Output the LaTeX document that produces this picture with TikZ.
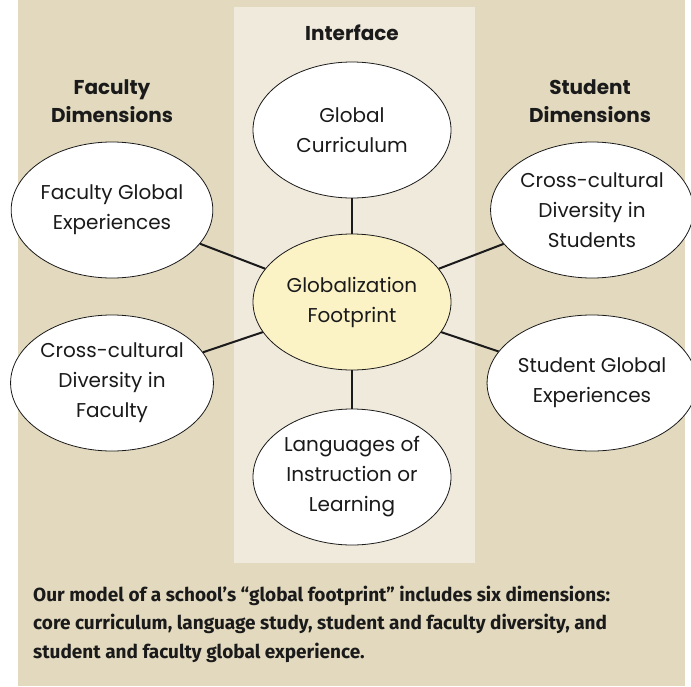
\documentclass[tikz,border=0pt]{standalone}
\usepackage{fontspec}
\setmainfont{Poppins}
\newfontfamily\notefont{Fira Sans}
\usetikzlibrary{shapes.geometric}

\definecolor{sand}{HTML}{E2D9BF}
\definecolor{paper}{HTML}{F0EADD}
\definecolor{cream}{HTML}{FBF3C6}
\definecolor{ink}{HTML}{1A1A1A}

\begin{document}
\begin{tikzpicture}[
  x=1pt, y=-1pt,
  every node/.style={align=center, text=ink},
  % Dimension ellipses
  dim/.style={ellipse, draw=ink, line width=0.8pt, fill=white, minimum width=198pt, minimum height=136pt, inner sep=0pt, font=\fontsize{20}{30}\selectfont},
  % Central ellipse
  core/.style={dim, fill=cream},
  % Column headings
  head/.style={font=\bfseries\fontsize{20}{28}\selectfont},
  % Spokes
  link/.style={line width=2pt, draw=ink},
  % Caption under the diagram
  note/.style={align=left, anchor=west, inner sep=0pt, font=\notefont\bfseries\fontsize{19}{28.5}\selectfont}
]
\useasboundingbox (0,0) rectangle (691,686);

% === Backgrounds ===
\fill[sand] (18,0) rectangle (685,686);
\fill[paper] (234,7) rectangle (475,563);

% === Headings ===
\node[head] (faculty) at (112,101) {Faculty\\Dimensions};
\node[head] (iface) at (352,33) {Interface};
\node[head] (student) at (590,101) {Student\\Dimensions};

% === Interface column ===
\node[dim] (curr) at (352,130) {Global\\Curriculum};
\node[core] (foot) at (352,302) {Globalization\\Footprint};
\node[dim] (lang) at (352,477) {Languages of\\Instruction or\\Learning};

% === Faculty side ===
\node[dim] (facexp) at (112,210) {Faculty Global\\Experiences};
\node[dim] (facdiv) at (112,383) {Cross-cultural\\Diversity in\\Faculty};

% === Student side ===
\node[dim] (studiv) at (592,210) {Cross-cultural\\Diversity in\\Students};
\node[dim] (stuexp) at (592,383) {Student Global\\Experiences};

% Spokes: footprint -> dimensions
\draw[link] (foot) -- (curr);
\draw[link] (foot) -- (lang);
\draw[link] (foot) -- (facexp);
\draw[link] (foot) -- (facdiv);
\draw[link] (foot) -- (studiv);
\draw[link] (foot) -- (stuexp);

% === Caption ===
\node[note] (caption) at (33,624) {Our model of a school’s “global footprint” includes six dimensions:\\core curriculum, language study, student and faculty diversity, and\\student and faculty global experience.};

\end{tikzpicture}
\end{document}
